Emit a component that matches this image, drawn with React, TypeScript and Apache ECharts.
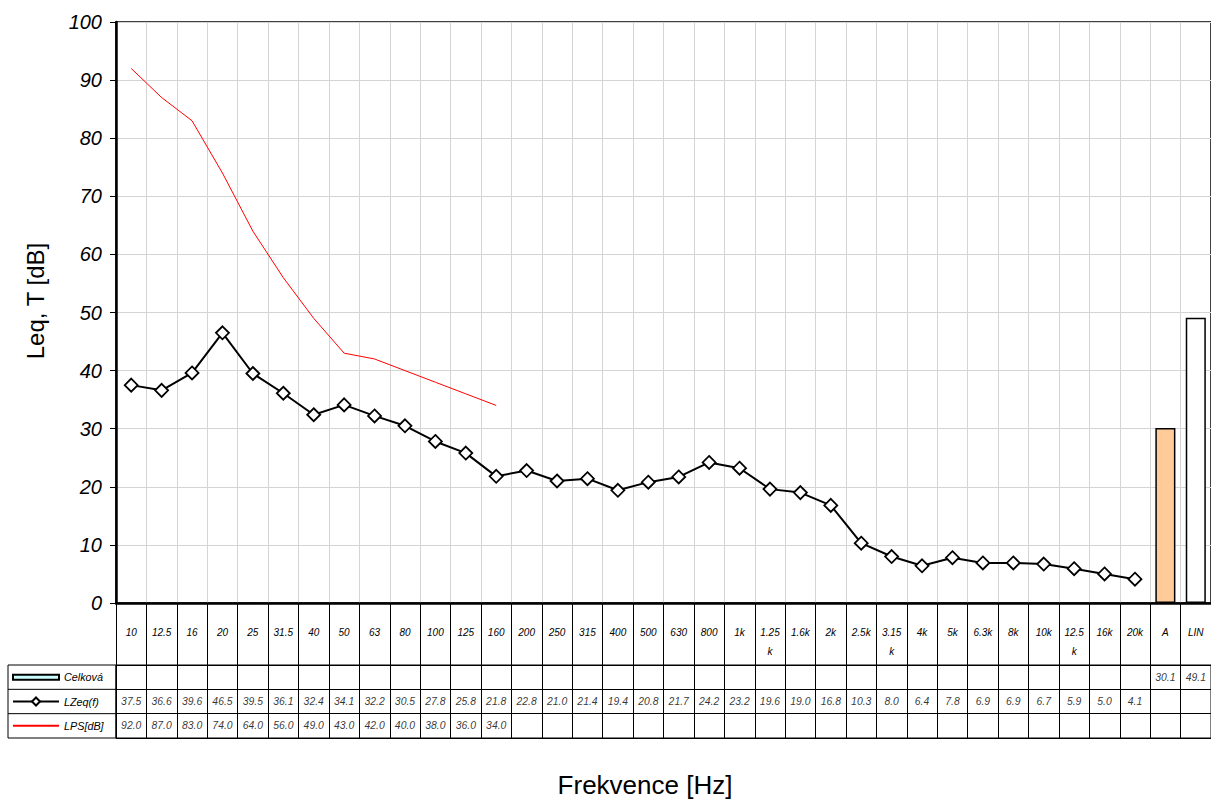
import React, { useEffect, useRef } from "react";
import * as echarts from "echarts";

const categories = ["10","12.5","16","20","25","31.5","40","50","63","80","100","125","160","200","250","315","400","500","630","800","1k","1.25k","1.6k","2k","2.5k","3.15k","4k","5k","6.3k","8k","10k","12.5k","16k","20k","A","LIN"];
const lzeq = [37.5,36.6,39.6,46.5,39.5,36.1,32.4,34.1,32.2,30.5,27.8,25.8,21.8,22.8,21.0,21.4,19.4,20.8,21.7,24.2,23.2,19.6,19.0,16.8,10.3,8.0,6.4,7.8,6.9,6.9,6.7,5.9,5.0,4.1];
const lps = [92.0,87.0,83.0,74.0,64.0,56.0,49.0,43.0,42.0,40.0,38.0,36.0,34.0];
const celkovaCats = ["A","LIN"];
const celkova = [30.1,49.1];
const rows = ["Celková","LZeq(f)","LPS[dB]"];
const yTicks = { min: 0, max: 100, interval: 10 };

const FONT = "'Liberation Sans', Arial, sans-serif";

export default function App() {
  const ref = useRef<HTMLDivElement>(null);
  useEffect(() => {
    const chart = echarts.init(ref.current!, null, { renderer: "svg" });
    const barData = categories.map((c) => {
      const i = celkovaCats.indexOf(c);
      if (i < 0) return "-";
      return {
        value: celkova[i],
        itemStyle: { color: c === "A" ? "#FFCC99" : "#FFFFFF" },
      };
    });
    const lineData = categories.map((_, i) => (i < lzeq.length ? lzeq[i] : "-"));
    const lpsData = categories.map((_, i) => (i < lps.length ? lps[i] : "-"));

    const tableData: any[] = [];
    categories.forEach((c) => {
      const i = celkovaCats.indexOf(c);
      if (i >= 0) tableData.push([c, rows[0], celkova[i]]);
    });
    lzeq.forEach((v, i) => tableData.push([categories[i], rows[1], v]));
    lps.forEach((v, i) => tableData.push([categories[i], rows[2], v]));

    const gridLeft = 116;
    const tableTop = 665;
    const tableH = 73;
    const rowH = tableH / rows.length;

    chart.setOption({
      animation: false,
      textStyle: { fontFamily: FONT },
      grid: [
        { left: gridLeft, right: -2, top: 22, bottom: 799 - 603, show: true, borderColor: "#000", borderWidth: 1.5 },
        { left: gridLeft, right: -2, top: tableTop, height: tableH, show: true, borderColor: "#000", borderWidth: 1 },
      ],
      xAxis: [
        {
          type: "category",
          gridIndex: 0,
          data: categories,
          boundaryGap: true,
          axisLine: { lineStyle: { color: "#000", width: 2.5 } },
          axisTick: { show: true, interval: 0, length: 62, lineStyle: { color: "#000", width: 1 } },
          axisLabel: {
            interval: 0,
            margin: 20,
            fontSize: 10,
            fontStyle: "italic",
            color: "#000",
            lineHeight: 19,
            verticalAlign: "top",
            formatter: (v: string) => (v.length > 4 && v.endsWith("k") ? v.slice(0, -1) + "\nk" : v),
          },
          splitLine: { show: true, interval: 0, lineStyle: { color: "#d4d4d4", width: 1 } },
        },
        {
          type: "category",
          gridIndex: 1,
          data: categories,
          boundaryGap: true,
          axisLine: { show: false },
          axisTick: { show: false },
          axisLabel: { show: false },
          splitLine: { show: true, interval: 0, lineStyle: { color: "#000", width: 1 } },
        },
      ],
      yAxis: [
        {
          type: "value",
          gridIndex: 0,
          min: yTicks.min,
          max: yTicks.max,
          interval: yTicks.interval,
          axisLine: { show: true, lineStyle: { color: "#000", width: 2.5 } },
          axisTick: { show: true, length: 6, lineStyle: { color: "#000", width: 1 } },
          axisLabel: { fontSize: 20, fontStyle: "italic", color: "#000", margin: 14 },
          splitLine: { show: true, lineStyle: { color: "#d4d4d4", width: 1 } },
        },
        {
          type: "category",
          gridIndex: 1,
          data: rows,
          inverse: true,
          axisLine: { show: false },
          axisTick: { show: false },
          axisLabel: { show: false },
          splitLine: { show: true, interval: 0, lineStyle: { color: "#000", width: 1 } },
        },
      ],
      legend: {
        orient: "vertical",
        left: 12,
        top: tableTop + rowH / 2 - 7,
        padding: 0,
        itemWidth: 46,
        itemHeight: 10,
        itemGap: rowH - 14,
        textStyle: { fontSize: 10.8, fontStyle: "italic", color: "#000", lineHeight: 14 },
        data: [
          {
            name: "Celková",
            icon: "path://M0,0H46V5H0Z",
            itemStyle: { color: "#CCFFFF", borderColor: "#000", borderWidth: 2 },
          },
          { name: "LZeq(f)" },
          { name: "LPS[dB]", itemStyle: { opacity: 0 } },
        ],
        selectedMode: false,
      },
      series: [
        {
          name: "Celková",
          type: "bar",
          xAxisIndex: 0,
          yAxisIndex: 0,
          data: barData,
          barWidth: "66%",
          itemStyle: { color: "#CCFFFF", borderColor: "#000", borderWidth: 1.5 },
        },
        {
          name: "LZeq(f)",
          type: "line",
          xAxisIndex: 0,
          yAxisIndex: 0,
          data: lineData,
          symbol: "diamond",
          symbolSize: 13,
          showAllSymbol: true,
          lineStyle: { color: "#000", width: 2 },
          itemStyle: { color: "#fff", borderColor: "#000", borderWidth: 1.8 },
        },
        {
          name: "LPS[dB]",
          type: "line",
          xAxisIndex: 0,
          yAxisIndex: 0,
          data: lpsData,
          symbol: "none",
          lineStyle: { color: "#FF0000", width: 1 },
          itemStyle: { color: "#FF0000" },
        },
        {
          name: "table",
          type: "scatter",
          xAxisIndex: 1,
          yAxisIndex: 1,
          data: tableData,
          symbolSize: 1,
          silent: true,
          itemStyle: { color: "rgba(0,0,0,0)" },
          label: {
            show: true,
            position: "inside",
            fontSize: 10.4,
            fontStyle: "italic",
            color: "#000",
            formatter: (p: any) => Number(p.value[2]).toFixed(1),
          },
        },
      ],
      graphic: [
        {
          type: "rect",
          shape: { x: 8, y: tableTop, width: gridLeft - 8, height: tableH },
          style: { fill: "none", stroke: "#000", lineWidth: 1 },
          silent: true,
        },
        ...[1, 2].map((k) => ({
          type: "line",
          shape: { x1: 8, y1: tableTop + rowH * k, x2: gridLeft, y2: tableTop + rowH * k },
          style: { stroke: "#000", lineWidth: 1 },
          silent: true,
        })),
        {
          type: "text",
          x: 35,
          y: 301,
          rotation: Math.PI / 2,
          style: {
            text: "Leq, T [dB]",
            fontSize: 24,
            fontFamily: FONT,
            fill: "#000",
            textAlign: "center",
            textVerticalAlign: "middle",
          },
          silent: true,
        },
        {
          type: "text",
          x: 645,
          y: 785,
          style: {
            text: "Frekvence [Hz]",
            fontSize: 26,
            fontFamily: FONT,
            fill: "#000",
            textAlign: "center",
            textVerticalAlign: "middle",
          },
          silent: true,
        },
      ],
    });
    return () => chart.dispose();
  }, []);
  return (
    <div
      ref={ref}
      style={{ position: "absolute", left: 0, top: 0, width: 1211, height: 799, background: "#fff" }}
    />
  );
}
